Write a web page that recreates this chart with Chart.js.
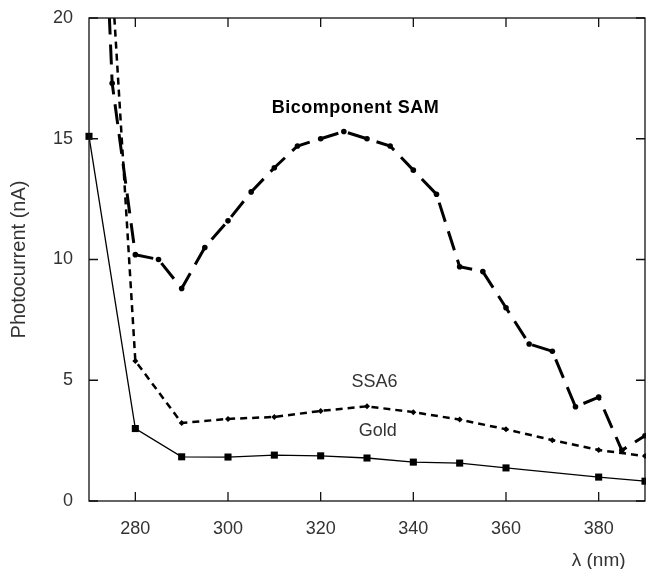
<!DOCTYPE html>
<html>
<head>
<meta charset="utf-8">
<script src="https://cdn.jsdelivr.net/npm/chart.js@4.4.0/dist/chart.umd.min.js"></script>
<style>
  html, body { margin: 0; padding: 0; background: #fff; overflow: hidden; }
  #wrap { width: 646px; height: 569px; position: relative; }
  canvas { display: block; }
</style>
</head>
<body>
<div id="wrap"><canvas id="chart"></canvas></div>
<script>
// Photocurrent (nA) vs wavelength (nm).
const goldNm   = [270, 280, 290, 300, 310, 320, 330, 340, 350, 360, 380, 390];
const goldNa   = [15.1, 3.0, 1.83, 1.82, 1.9, 1.87, 1.78, 1.61, 1.57, 1.37, 0.99, 0.82];

const ssa6Nm   = [275, 280, 290, 300, 310, 320, 330, 340, 350, 360, 370, 380, 390];
const ssa6Na   = [21.5, 5.8, 3.23, 3.4, 3.48, 3.73, 3.92, 3.68, 3.37, 2.97, 2.52, 2.11, 1.86];

const bicompNm = [270, 275, 280, 285, 290, 295, 300, 305, 310, 315, 320, 325, 330,
                  335, 340, 345, 350, 355, 360, 365, 370, 375, 380, 385, 390];
const bicompNa = [40, 17.3, 10.2, 10.0, 8.8, 10.5, 11.6, 12.8, 13.8, 14.7, 15.0, 15.3, 15.0,
                  14.7, 13.7, 12.7, 9.7, 9.5, 8.0, 6.5, 6.2, 3.9, 4.3, 2.1, 2.7];

const xTicks = [280, 300, 320, 340, 360, 380];
const yTicks = [0, 5, 10, 15, 20];

// In-plot series labels, placed in data units.
const seriesLabels = ['Bicomponent SAM', 'SSA6', 'Gold'];
const labelNm      = [327.5, 331.6, 332.3];
const labelNa      = [16.27, 4.93, 2.9];

const FONT = '"Liberation Sans", Arial, sans-serif';
const TEXT = '#333';
const TICK = 9;

const toPoints = (xs, ys) => xs.map((x, i) => ({ x, y: ys[i] }));

// Boxed frame with inward ticks on all four sides, plus the text annotations.
const framePlugin = {
  id: 'frame',
  afterDraw(chart) {
    const { ctx, chartArea: a, scales: { x, y } } = chart;
    ctx.save();
    ctx.strokeStyle = '#111';
    ctx.lineWidth = 1.3;
    ctx.strokeRect(a.left, a.top, a.right - a.left, a.bottom - a.top);
    ctx.beginPath();
    x.ticks.forEach(t => {
      const px = x.getPixelForValue(t.value);
      ctx.moveTo(px, a.bottom); ctx.lineTo(px, a.bottom - TICK);
      ctx.moveTo(px, a.top);    ctx.lineTo(px, a.top + TICK);
    });
    y.ticks.forEach(t => {
      const py = y.getPixelForValue(t.value);
      ctx.moveTo(a.left, py);  ctx.lineTo(a.left + TICK, py);
      ctx.moveTo(a.right, py); ctx.lineTo(a.right - TICK, py);
    });
    ctx.stroke();

    ctx.textAlign = 'center';
    ctx.textBaseline = 'middle';
    seriesLabels.forEach((label, i) => {
      ctx.font = (i === 0 ? 'bold ' : '') + '18px ' + FONT;
      ctx.fillStyle = i === 0 ? '#000' : TEXT;
      ctx.letterSpacing = i === 0 ? '0.5px' : '0px';
      ctx.fillText(label, x.getPixelForValue(labelNm[i]), y.getPixelForValue(labelNa[i]));
    });
    ctx.letterSpacing = '0px';

    // x-axis title sits under the last tick, as in the original figure
    ctx.font = '19px ' + FONT;
    ctx.fillStyle = TEXT;
    ctx.fillText('λ (nm)', x.getPixelForValue(xTicks[xTicks.length - 1]), a.bottom + 60);
    ctx.restore();
  }
};

const edgeClip = { left: 6, right: 6, top: 0, bottom: 6 };

new Chart(document.getElementById('chart'), {
  type: 'line',
  data: {
    datasets: [
      {
        label: 'Gold',
        data: toPoints(goldNm, goldNa),
        borderColor: '#000',
        borderWidth: 1.3,
        pointStyle: 'rect',
        pointRadius: 5,
        pointBackgroundColor: '#000',
        pointBorderColor: '#000',
        pointBorderWidth: 0,
        clip: edgeClip
      },
      {
        label: 'SSA6',
        data: toPoints(ssa6Nm, ssa6Na),
        borderColor: '#000',
        borderWidth: 2.5,
        borderDash: [7, 5],
        pointStyle: 'rectRot',
        pointRadius: 3,
        pointBackgroundColor: '#000',
        pointBorderColor: '#000',
        pointBorderWidth: 0,
        clip: edgeClip
      },
      {
        label: 'Bicomponent SAM',
        data: toPoints(bicompNm, bicompNa),
        borderColor: '#000',
        borderWidth: 3,
        borderDash: [20, 10],
        pointStyle: 'circle',
        pointRadius: 2.8,
        pointBackgroundColor: '#000',
        pointBorderColor: '#000',
        pointBorderWidth: 0,
        clip: edgeClip
      }
    ]
  },
  options: {
    responsive: true,
    maintainAspectRatio: false,
    animation: false,
    layout: { autoPadding: false, padding: { top: 18, right: 1, left: 0, bottom: 0 } },
    plugins: { legend: { display: false }, tooltip: { enabled: false } },
    scales: {
      x: {
        type: 'linear',
        min: 270,
        max: 390,
        afterBuildTicks: scale => { scale.ticks = xTicks.map(value => ({ value })); },
        // fixed band height, and no extra side padding for the edge labels
        afterFit: scale => { scale.height = 68; scale.paddingLeft = 0; scale.paddingRight = 0; },
        grid: { display: false },
        border: { display: false },
        ticks: { autoSkip: false, maxRotation: 0, padding: 9, color: TEXT, font: { family: FONT, size: 18 } }
      },
      y: {
        min: 0,
        max: 20,
        afterBuildTicks: scale => { scale.ticks = yTicks.map(value => ({ value })); },
        afterFit: scale => { scale.width = 89; scale.paddingTop = 0; scale.paddingBottom = 0; },
        grid: { display: false },
        border: { display: false },
        ticks: { padding: 8, color: TEXT, font: { family: FONT, size: 18 } },
        title: {
          display: true,
          text: 'Photocurrent (nA)',
          color: TEXT,
          font: { family: FONT, size: 20 },
          padding: { top: 7, bottom: 0 }
        }
      }
    }
  },
  plugins: [framePlugin]
});
</script>
</body>
</html>
